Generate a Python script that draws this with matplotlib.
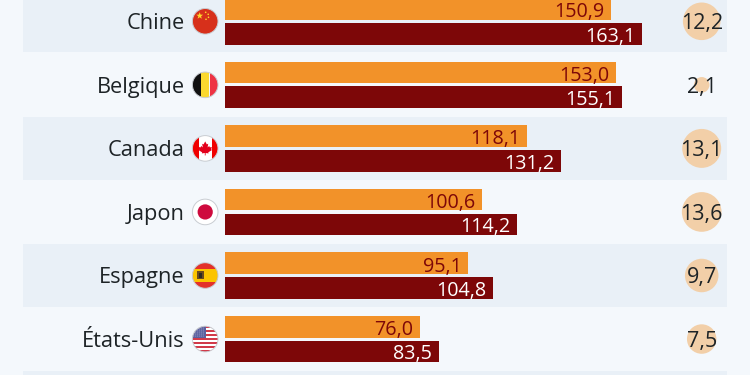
import matplotlib
matplotlib.use("Agg")
import matplotlib.pyplot as plt
from matplotlib.patches import Circle, Rectangle, Polygon

plt.rcParams['font.family'] = ['Open Sans', 'DejaVu Sans']

countries = ["Chine", "Belgique", "Canada", "Japon", "Espagne", "États-Unis"]
orange_values = [150.9, 153.0, 118.1, 100.6, 95.1, 76.0]
maroon_values = [163.1, 155.1, 131.2, 114.2, 104.8, 83.5]
diff_values = [12.2, 2.1, 13.1, 13.6, 9.7, 7.5]

ORANGE = "#F29229"
MAROON = "#7D0708"
BG = "#F4F8FC"
BAND = "#E9F0F7"
BUBBLE = "#F2CFA8"
TEXT = "#1D2326"

W, H = 750, 375
X0 = 225.5      # pixel of value 0
PX_PER_UNIT = 2.554
ROW0 = 21.3
ROW_STEP = 63.55


def row_px(i):
    return ROW0 + ROW_STEP * i


fig = plt.figure(figsize=(7.5, 3.75), dpi=100, facecolor=BG)
ax = fig.add_axes([0, 0, 1, 1])
ax.set_xlim(-X0 / PX_PER_UNIT, (W - X0) / PX_PER_UNIT)
ax.set_ylim((H - ROW0) / ROW_STEP, -ROW0 / ROW_STEP)
ax.axis("off")

# alternating bands, the last one is only just visible at the bottom
for i in range(0, 7, 2):
    ax.axhspan(i - 0.49, i + 0.49, xmin=23 / W, xmax=727 / W, color=BAND, lw=0, zorder=0)

rows = list(range(len(countries)))
off = 12.4 / ROW_STEP
h = 21.7 / ROW_STEP
ax.barh([r - off for r in rows], orange_values, height=h, color=ORANGE, zorder=2)
ax.barh([r + off for r in rows], maroon_values, height=h, color=MAROON, zorder=2)

for r in rows:
    ax.annotate(f"{orange_values[r]:.1f}".replace(".", ","), (orange_values[r], r - off),
                xytext=(-4.7, -0.7), textcoords="offset points", ha="right", va="center_baseline",
                fontsize=14.2, color=MAROON, zorder=3)
    ax.annotate(f"{maroon_values[r]:.1f}".replace(".", ","), (maroon_values[r], r + off),
                xytext=(-4.7, -0.3), textcoords="offset points", ha="right", va="center_baseline",
                fontsize=14.2, color="white", zorder=3)
    ax.annotate(countries[r], (0, r), xytext=(-29.5, 0), textcoords="offset points",
                ha="right", va="center_baseline", fontsize=15.7, color=TEXT, zorder=3)

# bubbles: area follows the difference
bubble_x = (701.7 - X0) / PX_PER_UNIT
sizes = [(2 * 5.38 * v ** 0.5 * 0.72) ** 2 for v in diff_values]
ax.scatter([bubble_x] * len(rows), rows, s=sizes, color=BUBBLE, lw=0, zorder=2)
for r in rows:
    ax.text(bubble_x, r, f"{diff_values[r]:.1f}".replace(".", ","), ha="center",
            va="center_baseline", fontsize=15.5, color=TEXT, zorder=3)

# flags live in a pixel overlay
fx = fig.add_axes([0, 0, 1, 1], facecolor="none")
fx.set_xlim(0, W)
fx.set_ylim(H, 0)
fx.axis("off")
FX, R = 205.2, 12.8


def star(cx, cy, r):
    import math
    pts = []
    for k in range(10):
        a = math.pi / 2 + k * math.pi / 5
        rr = r if k % 2 == 0 else r * 0.4
        pts.append((cx + rr * math.cos(a), cy - rr * math.sin(a)))
    return pts


def flag(i, items):
    cy = row_px(i)
    clip = Circle((FX, cy), R, transform=fx.transData)
    for it in items:
        fx.add_patch(it)
        it.set_clip_path(clip)
    fx.add_patch(Circle((FX, cy), R, fc="none", ec="#C9CDD2", lw=0.7))


def rect(x, y, w, h, c, i):
    return Rectangle((FX + x, row_px(i) + y), w, h, fc=c, lw=0)


flag(0, [rect(-13, -13, 26, 26, "#D7301B", 0),
         Polygon(star(FX - 5.5, row_px(0) - 5.5, 3.6), fc="#FFD92B", lw=0),
         *[Circle((FX + a, row_px(0) + b), 0.8, fc="#FFD92B", lw=0)
           for a, b in [(0.5, -9), (3, -7), (3.3, -4), (0.8, -2)]]])
flag(1, [rect(-13, -13, 9, 26, "#111111", 1), rect(-4.3, -13, 8.6, 26, "#FBD92F", 1),
         rect(4.3, -13, 9, 26, "#EE3344", 1)])
cy = row_px(2)
leaf = [(0, -7), (1.6, -4), (3, -4.6), (2.4, -1), (4, -2.4), (4.6, -1), (6.6, -1.4), (6, 1),
        (6.8, 1.6), (3, 4), (3.4, 5), (0.4, 4.6), (0.4, 7), (-0.4, 7), (-0.4, 4.6), (-3.4, 5),
        (-3, 4), (-6.8, 1.6), (-6, 1), (-6.6, -1.4), (-4.6, -1), (-4, -2.4), (-2.4, -1),
        (-3, -4.6), (-1.6, -4)]
flag(2, [rect(-13, -13, 26, 26, "#FFFFFF", 2), rect(-13, -13, 6.5, 26, "#F00000", 2),
         rect(6.5, -13, 6.5, 26, "#F00000", 2),
         Polygon([(FX + a, cy + b) for a, b in leaf], fc="#E3001B", lw=0)])
flag(3, [rect(-13, -13, 26, 26, "#FFFFFF", 3),
         Circle((FX, row_px(3)), 7.6, fc="#CE0A3D", lw=0)])
flag(4, [rect(-13, -13, 26, 26, "#E3312A", 4), rect(-13, -6.5, 26, 13, "#FBC400", 4),
         rect(-8, -4.5, 7, 8, "#6B4A1E", 4), rect(-6.3, -2.5, 3.5, 5, "#2C2A22", 4)])
us = [rect(-13, -13, 26, 26, "#FFFFFF", 5)]
for k in range(7):
    us.append(rect(-13, -13 + k * 4, 26, 2, "#D13A4A", 5))
us.append(rect(-13, -13, 13.5, 12, "#5A5F9E", 5))
for a in range(-12, 0, 2):
    for b in range(-11, -1, 2):
        us.append(Circle((FX + a, row_px(5) + b), 0.4, fc="#DADCEB", lw=0))
flag(5, us)

fig.savefig("out.png", dpi=100, facecolor=BG)
